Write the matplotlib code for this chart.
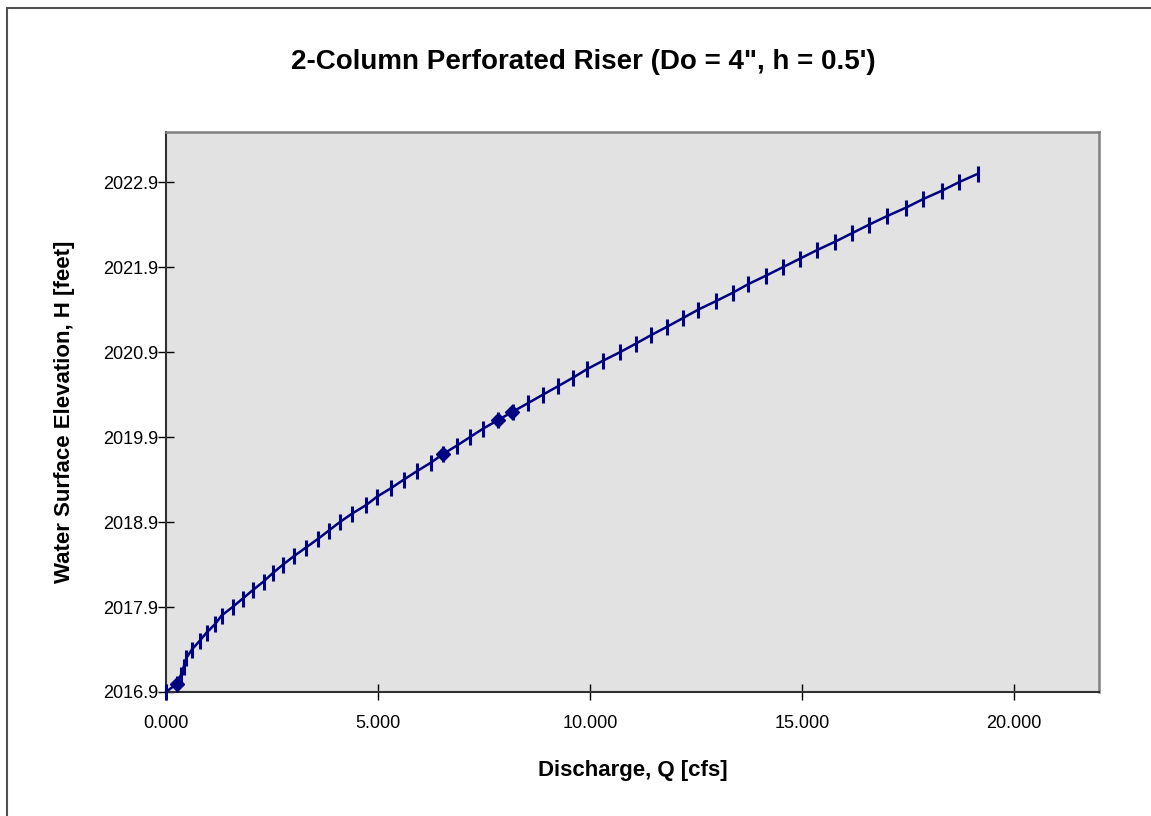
import matplotlib
matplotlib.use("Agg")
import matplotlib.pyplot as plt
from matplotlib.patches import Rectangle

plt.rcParams['font.family'] = ['Liberation Sans', 'DejaVu Sans']

# Stage-discharge table for the riser (elevation in feet, discharge in cfs)
stage = [
    2016.9, 2017.0, 2017.1, 2017.2, 2017.3, 2017.4, 2017.5, 2017.6, 2017.7, 2017.8,
    2017.9, 2018.0, 2018.1, 2018.2, 2018.3, 2018.4, 2018.5, 2018.6, 2018.7, 2018.8,
    2018.9, 2019.0, 2019.1, 2019.2, 2019.3, 2019.4, 2019.5, 2019.6, 2019.7, 2019.8,
    2019.9, 2020.0, 2020.1, 2020.2, 2020.3, 2020.4, 2020.5, 2020.6, 2020.7, 2020.8,
    2020.9, 2021.0, 2021.1, 2021.2, 2021.3, 2021.4, 2021.5, 2021.6, 2021.7, 2021.8,
    2021.9, 2022.0, 2022.1, 2022.2, 2022.3, 2022.4, 2022.5, 2022.6, 2022.7, 2022.8,
    2022.9, 2023.0,
]
discharge = [
    0.00, 0.26, 0.35, 0.42, 0.48, 0.61, 0.79, 0.96, 1.16, 1.31,
    1.57, 1.81, 2.05, 2.30, 2.52, 2.76, 3.02, 3.30, 3.58, 3.84,
    4.10, 4.39, 4.72, 4.98, 5.31, 5.61, 5.92, 6.25, 6.53, 6.86,
    7.17, 7.48, 7.83, 8.18, 8.54, 8.89, 9.25, 9.60, 9.93, 10.31,
    10.71, 11.08, 11.44, 11.82, 12.19, 12.55, 12.97, 13.37, 13.73, 14.15,
    14.55, 14.95, 15.35, 15.78, 16.18, 16.58, 17.00, 17.45, 17.85, 18.30,
    18.70, 19.15,
]

# Design points highlighted on the rating curve
design_q = [0.26, 6.53, 7.83, 8.17]
design_h = [2017.0, 2019.7, 2020.1, 2020.2]

x_ticks = [0, 5, 10, 15, 20]
x_tick_labels = ["0.000", "5.000", "10.000", "15.000", "20.000"]
y_ticks = [2016.9, 2017.9, 2018.9, 2019.9, 2020.9, 2021.9, 2022.9]
y_tick_labels = ["2016.9", "2017.9", "2018.9", "2019.9", "2020.9", "2021.9", "2022.9"]

W, H = 1151, 816
fig = plt.figure(figsize=(W / 100, H / 100), dpi=100)
fig.patch.set_facecolor('white')

# chart-area frame (left and top edges visible)
fig.add_artist(Rectangle((7 / W, -0.5), 2.0, 1.5 - 8 / H, transform=fig.transFigure,
                         fill=False, edgecolor='#505050', linewidth=1.5, clip_on=False))

ax = fig.add_axes([166 / W, 1 - 692 / H, (1099 - 166) / W, (692 - 132) / H])
ax.set_facecolor('#E2E2E2')

navy = '#000080'
ax.plot(discharge, stage, color=navy, linewidth=1.8, marker='|',
        markersize=11, markeredgewidth=2.2, zorder=3, clip_on=False)
ax.plot(design_q, design_h, linestyle='none', marker='D', color=navy,
        markersize=7, zorder=4, clip_on=False)

ax.set_xlim(0, 22)
ax.set_ylim(2016.9, 2023.49)
ax.set_xticks(x_ticks)
ax.set_xticklabels(x_tick_labels)
ax.set_yticks(y_ticks)
ax.set_yticklabels(y_tick_labels)

ax.tick_params(axis='both', direction='inout', length=11, width=1, colors='black',
               labelsize=13)
ax.tick_params(axis='y', pad=0)
ax.tick_params(axis='x', pad=11)

for side in ('left', 'bottom'):
    ax.spines[side].set_color('#303030')
    ax.spines[side].set_linewidth(1.5)
for side in ('top', 'right'):
    ax.spines[side].set_color('#808080')
    ax.spines[side].set_linewidth(1.8)

ax.set_xlabel('Discharge, Q [cfs]', fontsize=16, fontweight='bold', labelpad=20)
ax.set_ylabel('Water Surface Elevation, H [feet]', fontsize=16, fontweight='bold', labelpad=20)

fig.text(0.5065, 1 - 62 / H, '2-Column Perforated Riser (Do = 4", h = 0.5\')',
         ha='center', va='center', fontsize=20, fontweight='bold')

fig.savefig('out.png', dpi=100, facecolor='white')
